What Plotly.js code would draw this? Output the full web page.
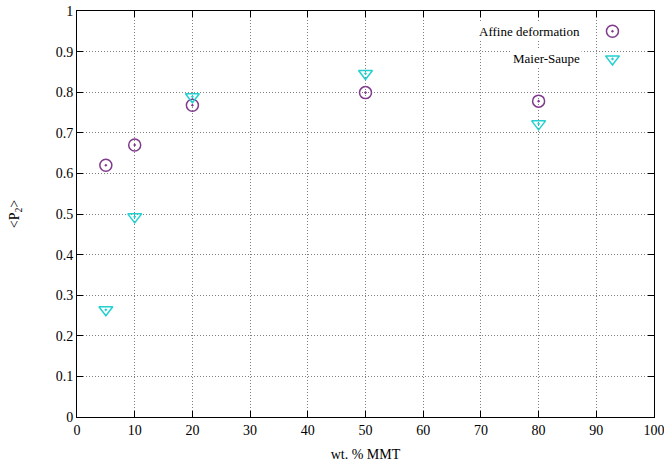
<!DOCTYPE html>
<html>
<head>
<meta charset="utf-8">
<script src="https://cdn.plot.ly/plotly-3.0.1.min.js"></script>
<style>html,body{margin:0;padding:0;background:#fff;}#chart{width:664px;height:462px;}</style>
</head>
<body>
<div id="chart"></div>
<script>
var wtMMT = [5, 10, 20, 50, 80];
var affineP2 = [0.62, 0.67, 0.768, 0.799, 0.778];
var maierSaupeP2 = [0.264, 0.493, 0.789, 0.846, 0.722];
var seriesNames = ["Affine deformation", "Maier-Saupe"];
var xTicks = [0, 10, 20, 30, 40, 50, 60, 70, 80, 90, 100];
var yTicks = [0, 0.1, 0.2, 0.3, 0.4, 0.5, 0.6, 0.7, 0.8, 0.9, 1];

var purple = "#7f3a8c";
var cyan = "#22d0d0";
var font = "'Liberation Serif', 'Times New Roman', serif";

var traces = [
  {x: wtMMT, y: affineP2, mode: "markers", type: "scatter", name: seriesNames[0],
   marker: {symbol: "circle-open-dot", size: 12, color: purple, line: {width: 1.5, color: purple}}},
  {x: wtMMT, y: maierSaupeP2, mode: "markers", type: "scatter", name: seriesNames[1],
   marker: {symbol: "triangle-down-open-dot", size: 12, color: cyan, line: {width: 1.5, color: cyan}}},
  // legend keys, on an overlay axis in plot-fraction units
  {x: [0.928], y: [0.95], xaxis: "x2", yaxis: "y2", mode: "markers", type: "scatter", showlegend: false, hoverinfo: "skip",
   marker: {symbol: "circle-open-dot", size: 12, color: purple, line: {width: 1.5, color: purple}}},
  {x: [0.928], y: [0.882], xaxis: "x2", yaxis: "y2", mode: "markers", type: "scatter", showlegend: false, hoverinfo: "skip",
   marker: {symbol: "triangle-down-open-dot", size: 12, color: cyan, line: {width: 1.5, color: cyan}}}
];

var axisCommon = {
  showline: true, linecolor: "#000", linewidth: 1, mirror: "ticks",
  ticks: "inside", ticklen: 6, tickcolor: "#000", tickwidth: 1,
  showgrid: true, gridcolor: "#808080", griddash: "1px,2px", gridwidth: 1,
  zeroline: false, tickfont: {family: font, size: 14, color: "#000"},
  ticklabeloverflow: "allow", automargin: false
};

var layout = {
  width: 664, height: 462,
  margin: {l: 77, r: 10, t: 11, b: 45},
  paper_bgcolor: "#fff", plot_bgcolor: "#fff",
  showlegend: false,
  font: {family: font, color: "#000"},
  xaxis: Object.assign({}, axisCommon, {
    range: [0, 100], tickvals: xTicks, ticktext: xTicks.map(String),
    title: {text: "wt. % MMT", font: {family: font, size: 14, color: "#000"}, standoff: 12}
  }),
  yaxis: Object.assign({}, axisCommon, {
    range: [0, 1], tickvals: yTicks, ticktext: yTicks.map(String),
    title: {text: "&lt;P<sub>2</sub>&gt;", font: {family: font, size: 14, color: "#000"}, standoff: 32}
  }),
  xaxis2: {overlaying: "x", range: [0, 1], visible: false, fixedrange: true},
  yaxis2: {overlaying: "y", range: [0, 1], visible: false, fixedrange: true},
  annotations: [
    {xref: "x2", yref: "y2", x: 0.875, y: 0.95, xanchor: "right", yanchor: "middle", showarrow: false,
     text: seriesNames[0], font: {family: font, size: 13, color: "#000"}, bgcolor: "#fff"},
    {xref: "x2", yref: "y2", x: 0.875, y: 0.882, xanchor: "right", yanchor: "middle", showarrow: false,
     text: seriesNames[1], font: {family: font, size: 13, color: "#000"}, bgcolor: "#fff"}
  ]
};

Plotly.newPlot("chart", traces, layout, {displayModeBar: false, staticPlot: true});
</script>
</body>
</html>
